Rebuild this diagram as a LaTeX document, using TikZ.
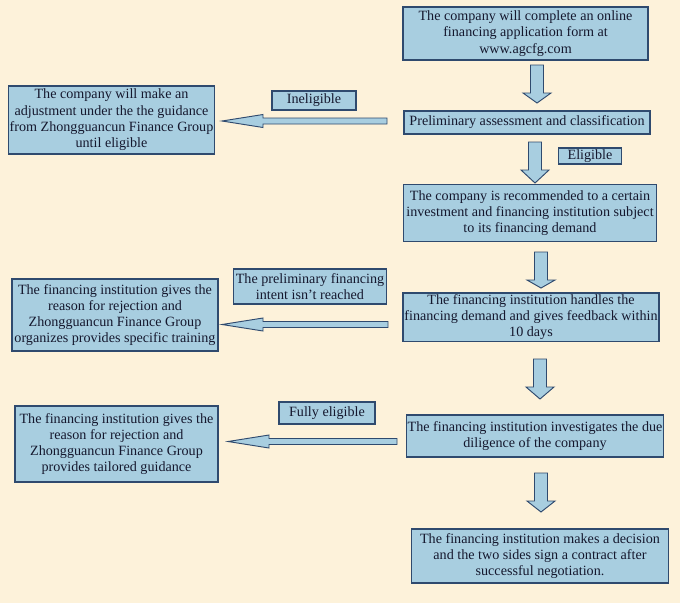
\documentclass[tikz,border=0pt]{standalone}
\usepackage{fontspec}
\setmainfont{Liberation Serif}
\definecolor{bgcream}{HTML}{FDF2DA}
\definecolor{boxblue}{HTML}{A8CEE0}
\definecolor{boxline}{HTML}{2F4A6E}
\definecolor{inkblue}{HTML}{15182E}

\tikzset{
	pics/downblock/.style={code={
		\draw[draw=boxline,fill=boxblue,line width=0.7pt,line join=miter] (-6.5,0) -- (6.5,0) -- (6.5,28) -- (14,28) -- (0,#1) -- (-14,28) -- (-6.5,28) -- cycle;}},
	pics/leftblock/.style={code={
		\draw[draw=boxline,fill=boxblue,line width=0.7pt,line join=miter] (0,-3) -- ({-(#1-41)},-3) -- ({-(#1-41)},-6.5) -- ({-#1},0) -- ({-(#1-41)},6.5) -- ({-(#1-41)},3) -- (0,3) -- cycle;}}
}

\begin{document}
\begin{tikzpicture}[x=0.75pt,y=-0.75pt,
	box/.style={draw=boxline,fill=boxblue,line width=0.9pt,align=center,inner sep=1pt,text=inkblue,font=\fontsize{10.6}{12.2}\selectfont}]
	\fill[bgcream] (0,0) rectangle (680,603);
	\useasboundingbox (0,0) rectangle (680,603);
	
	% main column
	\node[box,minimum width=183.75pt,minimum height=39.75pt] (apply) at (525.5,33.5) {The company will complete an online\\financing application form at\\www.agcfg.com};
	\node[box,minimum width=184.5pt,minimum height=17.25pt] (assess) at (527,122.5) {Preliminary assessment and classification};
	\node[box,minimum width=189.75pt,minimum height=42.75pt] (recommend) at (530,213) {The company is recommended to a certain\\investment and financing institution subject\\to its financing demand};
	\node[box,minimum width=192pt,minimum height=36pt] (handles) at (531,317) {The financing institution handles the\\financing demand and gives feedback within\\10 days};
	\node[box,minimum width=192pt,minimum height=31.5pt] (invest) at (535,436) {The financing institution investigates the due\\diligence of the company};
	\node[box,minimum width=192.75pt,minimum height=40.5pt] (decide) at (540,556) {The financing institution makes a decision\\and the two sides sign a contract after\\successful negotiation.};
	
	% side boxes
	\node[box,minimum width=153.75pt,minimum height=51pt] (adjust) at (111.5,120) {The company will make an\\adjustment under the the guidance\\from Zhongguancun Finance Group\\until eligible};
	\node[box,minimum width=154.5pt,minimum height=54pt] (training) at (115,315) {The financing institution gives the\\reason for rejection and\\Zhongguancun Finance Group\\organizes provides specific training};
	\node[box,minimum width=152.25pt,minimum height=57pt] (guidance) at (116.5,444) {The financing institution gives the\\reason for rejection and\\Zhongguancun Finance Group\\provides tailored guidance};
	
	% conditions
	\node[box,minimum width=63pt,minimum height=14.25pt] (inelig) at (314,100.5) {Ineligible};
	\node[box,minimum width=47.25pt,minimum height=12pt] (elig) at (590,156) {Eligible};
	\node[box,minimum width=114.75pt,minimum height=26.25pt] (intent) at (310,286.5) {The preliminary financing\\intent isn't reached};
	\node[box,minimum width=72pt,minimum height=16.5pt] (fully) at (327,413) {Fully eligible};
	
	% arrows
	\pic at (537,65) {downblock=38};
	\pic at (535,142) {downblock=41};
	\pic at (541,252) {downblock=36};
	\pic at (540,359) {downblock=40};
	\pic at (541,473) {downblock=39};
	\pic at (387,121) {leftblock=165};
	\pic at (388,324.5) {leftblock=166};
	\pic at (397,441.5) {leftblock=169};
\end{tikzpicture}
\end{document}
